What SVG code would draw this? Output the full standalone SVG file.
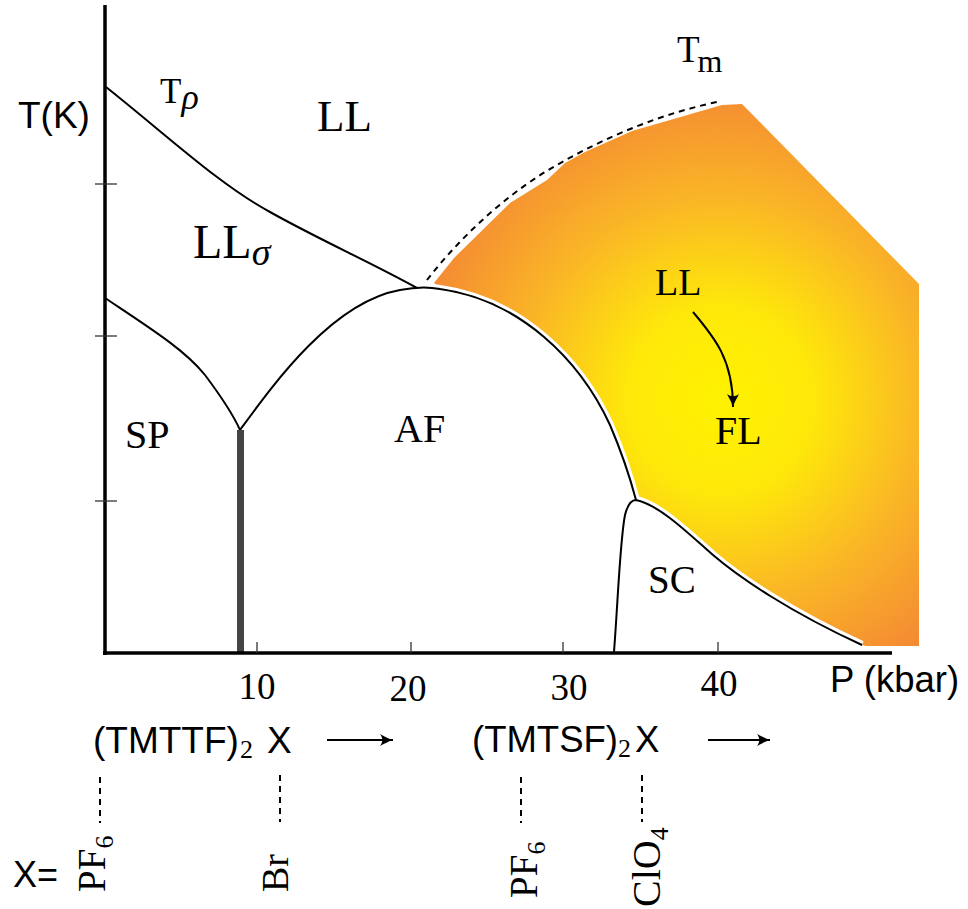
<svg xmlns="http://www.w3.org/2000/svg" width="968" height="909" viewBox="0 0 968 909">
<defs>
<radialGradient id="hot" gradientUnits="userSpaceOnUse" cx="720" cy="400" r="310">
<stop offset="0" stop-color="#FFF200"/>
<stop offset="0.3" stop-color="#FEE80A"/>
<stop offset="0.65" stop-color="#FAB626"/>
<stop offset="1" stop-color="#F48B33"/>
</radialGradient>
<marker id="ah" viewBox="-14 -7 15 14" refX="0" refY="0" markerWidth="15" markerHeight="14" markerUnits="userSpaceOnUse" orient="auto">
<path d="M0,0 C-4,-1 -9,-4 -13,-6 C-10,-2 -10,2 -13,6 C-9,4 -4,1 0,0 Z" fill="#000"/>
</marker>
</defs>
<style>
.ln{fill:none;stroke:#000;stroke-width:2}
.gap{fill:none;stroke:#fff;stroke-width:8}
.dash{fill:none;stroke:#000;stroke-width:2;stroke-dasharray:6,5}
.tick{stroke:#333;stroke-width:1.3}
.serif{font-family:"Liberation Serif","Times New Roman",serif;fill:#000}
.sans{font-family:"Liberation Sans",Arial,sans-serif;fill:#000}
.it{font-style:italic}
</style>
<rect width="968" height="909" fill="#fff"/>

<g id="fl-region">
<path d="M434,283 L454,258 L510,203 L547,180 L565,163 L585,152 L632,131 L722,105 L742,104 L919,284 L919,646 L866,646 L840,640 L760,600 L700,555 L640,515 L630,500 L600,430 L550,360 L500,315 L445,292 Z" fill="url(#hot)"/>
</g>

<g id="white-regions">
<path d="M614,652 C618,600 620,540 625,515 C628,503 632,500 636,500 C660,505 690,535 713,555 C740,578 790,612 862,645 L862,652 Z" fill="#fff"/>
<path d="M240,430 C275,382 333,302 400,290 C415,287 430,287 440,289 C520,300 580,360 610,425 C625,460 632,485 636,500 L636,652 L240,652 Z" fill="#fff"/>
<path class="gap" d="M424,287 C430,287 435,288 440,289 C520,300 580,360 610,425 C625,460 632,485 636,500"/>
<path class="gap" d="M636,500 C660,505 690,535 713,555 C740,578 790,612 862,645"/>
</g>

<g id="connectors">
<path id="t-rho" class="ln" d="M106,87 C170,138 220,185 270,212 C320,240 370,262 417,288"/>
<path id="sp-line" class="ln" d="M105,298 C150,328 185,350 205,375 C220,395 232,412 240,430"/>
<path id="af-dome" class="ln" d="M240,430 C275,382 333,302 400,290 C415,287 430,287 440,289 C520,300 580,360 610,425 C625,460 632,485 636,500"/>
<path id="sc-line" class="ln" d="M614,652 C618,600 620,540 625,515 C628,503 632,500 636,500 C660,505 690,535 713,555 C740,578 790,612 862,645"/>
<line id="sp-af" x1="240.5" y1="430" x2="240.5" y2="653" stroke="#444" stroke-width="7"/>
<path id="tm-line" class="dash" d="M427,280 C458,240 500,200 545,172 C590,145 650,116 717,102"/>
<path id="ll-fl" class="ln" d="M693,312 C715,338 733,360 733,407" marker-end="url(#ah)"/>
<line class="ln" x1="327" y1="740" x2="393" y2="740" marker-end="url(#ah)"/>
<line class="ln" x1="708" y1="740" x2="770" y2="740" marker-end="url(#ah)"/>
<line class="dash" x1="100" y1="777" x2="100" y2="823"/>
<line class="dash" x1="280" y1="775" x2="280" y2="822"/>
<line class="dash" x1="521" y1="777" x2="521" y2="823"/>
<line class="dash" x1="642" y1="775" x2="642" y2="822"/>
</g>

<g id="axes">
<line x1="105" y1="5" x2="105" y2="655" stroke="#000" stroke-width="3.5"/>
<line x1="103" y1="653" x2="892" y2="653" stroke="#000" stroke-width="3.5"/>
<line class="tick" x1="95" y1="184" x2="117" y2="184"/>
<line class="tick" x1="95" y1="336" x2="117" y2="336"/>
<line class="tick" x1="95" y1="501" x2="117" y2="501"/>
<line class="tick" x1="257" y1="642" x2="257" y2="653"/>
<line class="tick" x1="411" y1="642" x2="411" y2="653"/>
<line class="tick" x1="563" y1="642" x2="563" y2="653"/>
<line class="tick" x1="718" y1="642" x2="718" y2="653"/>
<text class="sans" x="18" y="128" font-size="37">T(K)</text>
<text class="sans" x="830" y="692" font-size="36.5">P (kbar)</text>
<g class="serif" font-size="37" text-anchor="middle">
<text x="257" y="699">10</text>
<text x="408" y="701">20</text>
<text x="569" y="700">30</text>
<text x="719" y="696">40</text>
</g>
</g>

<g id="labels">
<text class="serif" x="160" y="103" font-size="35">T<tspan class="it" font-size="36" dy="6">ρ</tspan></text>
<text class="serif" x="317" y="131" font-size="45">LL</text>
<text class="serif" x="193" y="258" font-size="48">LL<tspan class="it" font-size="38" dy="7">σ</tspan></text>
<text class="serif" x="677" y="62" font-size="37">T<tspan font-size="32" dy="10" dx="-2">m</tspan></text>
<text class="serif" x="655" y="295" font-size="38">LL</text>
<text class="serif" x="715" y="444" font-size="40">FL</text>
<text class="serif" x="394" y="442" font-size="40">AF</text>
<text class="serif" x="125" y="448" font-size="40">SP</text>
<text class="serif" x="648" y="593" font-size="39">SC</text>
</g>

<g id="compounds">
<text class="sans" x="93" y="753" font-size="37">(TMTTF)<tspan class="serif" font-size="26" dy="5" dx="1">2</tspan><tspan dy="-5" dx="14">X</tspan></text>
<text class="sans" x="472" y="752" font-size="36.5">(TMTSF)<tspan class="serif" font-size="26" dy="5" dx="0">2</tspan><tspan dy="-5" dx="4">X</tspan></text>
<text class="sans" x="13" y="887" font-size="36">X=</text>
<text class="serif" transform="translate(105,892) rotate(-90)" font-size="39">PF<tspan font-size="26" dy="8">6</tspan></text>
<text class="serif" transform="translate(288,892) rotate(-90)" font-size="38">Br</text>
<text class="serif" transform="translate(537,898) rotate(-90)" font-size="39">PF<tspan font-size="26" dy="8">6</tspan></text>
<text class="serif" transform="translate(660,907) rotate(-90)" font-size="40">ClO<tspan font-size="26" dy="8">4</tspan></text>
</g>
</svg>
